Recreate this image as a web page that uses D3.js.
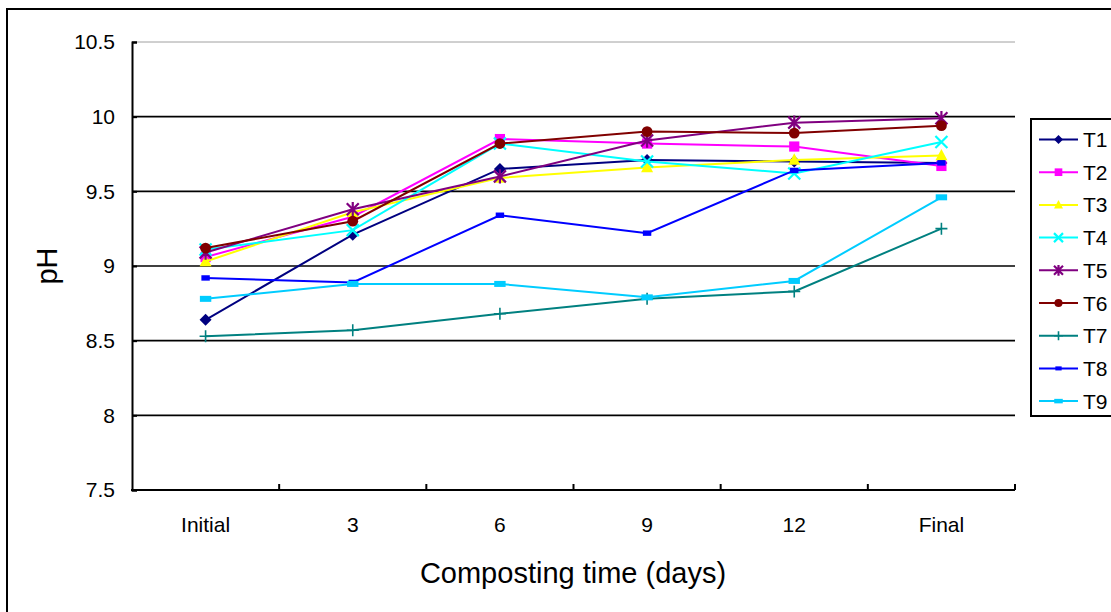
<!DOCTYPE html>
<html>
<head>
<meta charset="utf-8">
<script src="https://cdn.jsdelivr.net/npm/d3@7"></script>
<style>
  html, body { margin: 0; padding: 0; background: #fff; }
  svg { display: block; font-family: "Liberation Sans", Arial, sans-serif; }
</style>
</head>
<body>
<svg id="chart" width="1111" height="612"></svg>
<script>
// Composting time points
const categories = ["Initial", "3", "6", "9", "12", "Final"];

// pH for each treatment
const T1 = [8.64, 9.21, 9.65, 9.71, 9.70, 9.69];
const T2 = [9.06, 9.33, 9.85, 9.82, 9.80, 9.67];
const T3 = [9.03, 9.36, 9.59, 9.66, 9.71, 9.74];
const T4 = [9.11, 9.24, 9.82, 9.70, 9.62, 9.83];
const T5 = [9.09, 9.38, 9.60, 9.84, 9.96, 9.99];
const T6 = [9.12, 9.30, 9.82, 9.90, 9.89, 9.94];
const T7 = [8.53, 8.57, 8.68, 8.78, 8.83, 9.25];
const T8 = [8.92, 8.89, 9.34, 9.22, 9.64, 9.69];
const T9 = [8.78, 8.88, 8.88, 8.79, 8.90, 9.46];

const seriesNames = ["T1", "T2", "T3", "T4", "T5", "T6", "T7", "T8", "T9"];
const yTicks = [7.5, 8, 8.5, 9, 9.5, 10, 10.5];

const series = [
  { name: "T1", values: T1, color: "#000080", marker: "diamond" },
  { name: "T2", values: T2, color: "#FF00FF", marker: "square" },
  { name: "T3", values: T3, color: "#FFFF00", marker: "triangle" },
  { name: "T4", values: T4, color: "#00FFFF", marker: "x" },
  { name: "T5", values: T5, color: "#800080", marker: "star" },
  { name: "T6", values: T6, color: "#800000", marker: "circle" },
  { name: "T7", values: T7, color: "#008080", marker: "plus" },
  { name: "T8", values: T8, color: "#0000FF", marker: "dash" },
  { name: "T9", values: T9, color: "#00CCFF", marker: "bar" }
];

const svg = d3.select("#chart");

// Outer frame
svg.append("rect")
  .attr("x", 7).attr("y", 9)
  .attr("width", 1120).attr("height", 620)
  .attr("fill", "none").attr("stroke", "#000").attr("stroke-width", 2);

const plot = { left: 132, right: 1015, top: 42, bottom: 490 };

const x = d3.scaleBand().domain(categories).range([plot.left, plot.right]);
const y = d3.scaleLinear().domain([7.5, 10.5]).range([plot.bottom, plot.top]);

// Horizontal grid lines
svg.append("g")
  .selectAll("line")
  .data(yTicks.filter(t => t > 7.5))
  .join("line")
  .attr("x1", plot.left).attr("x2", plot.right)
  .attr("y1", d => y(d)).attr("y2", d => y(d))
  .attr("stroke", d => d === 10.5 ? "#a0a0a0" : "#000")
  .attr("stroke-width", d => d === 10.5 ? 1 : 1.6);

// Y axis
const yAxis = svg.append("g")
  .attr("transform", `translate(${plot.left},0)`)
  .call(d3.axisLeft(y).tickValues(yTicks).tickSize(-5).tickPadding(17)
    .tickFormat(d => String(d)));
yAxis.select(".domain").attr("stroke", "#000").attr("stroke-width", 2);
yAxis.selectAll(".tick line").attr("stroke", "#000").attr("stroke-width", 2);
yAxis.selectAll("text").attr("font-size", 21).attr("fill", "#000")
  .attr("font-family", "Liberation Sans, Arial, sans-serif");

// X axis with tick marks at category boundaries
const boundaries = categories.map(c => x(c)).concat([plot.right]);
svg.append("line")
  .attr("x1", plot.left - 1).attr("x2", plot.right)
  .attr("y1", plot.bottom).attr("y2", plot.bottom)
  .attr("stroke", "#000").attr("stroke-width", 2);
svg.append("g").selectAll("line")
  .data(boundaries.slice(1))
  .join("line")
  .attr("x1", d => d).attr("x2", d => d)
  .attr("y1", plot.bottom).attr("y2", plot.bottom - 6)
  .attr("stroke", "#000").attr("stroke-width", 2);
svg.append("g").selectAll("text")
  .data(categories)
  .join("text")
  .attr("x", d => x(d) + x.bandwidth() / 2)
  .attr("y", 532)
  .attr("text-anchor", "middle")
  .attr("font-size", 21)
  .text(d => d);

// Axis titles
svg.append("text")
  .attr("x", 573).attr("y", 583)
  .attr("text-anchor", "middle")
  .attr("font-size", 29)
  .text("Composting time (days)");
svg.append("text")
  .attr("transform", "translate(57,266) rotate(-90)")
  .attr("text-anchor", "middle")
  .attr("font-size", 29)
  .text("pH");

// Marker shapes
function drawMarker(g, type, color, s) {
  switch (type) {
    case "diamond":
      g.append("path").attr("d", `M0,${-s}L${s},0L0,${s}L${-s},0Z`).attr("fill", color);
      break;
    case "square":
      g.append("rect").attr("x", -s * 0.85).attr("y", -s * 0.85)
        .attr("width", s * 1.7).attr("height", s * 1.7).attr("fill", color);
      break;
    case "triangle":
      g.append("path").attr("d", `M0,${-s * 1.1}L${s},${s * 0.8}L${-s},${s * 0.8}Z`).attr("fill", color);
      break;
    case "x":
      g.append("path").attr("d", `M${-s},${-s}L${s},${s}M${-s},${s}L${s},${-s}`)
        .attr("stroke", color).attr("stroke-width", 2.2).attr("fill", "none");
      break;
    case "star":
      g.append("path").attr("d", `M${-s},${-s}L${s},${s}M${-s},${s}L${s},${-s}M0,${-s * 1.2}L0,${s * 1.2}`)
        .attr("stroke", color).attr("stroke-width", 2.2).attr("fill", "none");
      break;
    case "circle":
      g.append("circle").attr("r", s * 0.9).attr("fill", color);
      break;
    case "plus":
      g.append("path").attr("d", `M${-s},0L${s},0M0,${-s}L0,${s}`)
        .attr("stroke", color).attr("stroke-width", 1.6).attr("fill", "none");
      break;
    case "dash":
      g.append("rect").attr("x", -s * 0.7).attr("y", -s * 0.45)
        .attr("width", s * 1.4).attr("height", s * 0.9).attr("fill", color);
      break;
    case "bar":
      g.append("rect").attr("x", -s * 0.95).attr("y", -s * 0.5)
        .attr("width", s * 1.9).attr("height", s * 1.0).attr("fill", color);
      break;
  }
}

const line = d3.line()
  .x((d, i) => x(categories[i]) + x.bandwidth() / 2)
  .y(d => y(d));

// Series lines and markers
series.forEach(s => {
  const g = svg.append("g");
  g.append("path")
    .attr("d", line(s.values))
    .attr("fill", "none")
    .attr("stroke", s.color)
    .attr("stroke-width", 2);
  s.values.forEach((v, i) => {
    const m = g.append("g")
      .attr("transform", `translate(${x(categories[i]) + x.bandwidth() / 2},${y(v)})`);
    drawMarker(m, s.marker, s.color, 6);
  });
});

// Legend
const legend = svg.append("g");
legend.append("rect")
  .attr("x", 1031).attr("y", 119)
  .attr("width", 100).attr("height", 297)
  .attr("fill", "#fff").attr("stroke", "#000").attr("stroke-width", 2);
series.forEach((s, i) => {
  const ly = 139.5 + i * 32.7;
  const g = legend.append("g");
  g.append("line")
    .attr("x1", 1039).attr("x2", 1078)
    .attr("y1", ly).attr("y2", ly)
    .attr("stroke", s.color).attr("stroke-width", 2);
  const m = g.append("g").attr("transform", `translate(1058.5,${ly})`);
  drawMarker(m, s.marker, s.color, 4.5);
  g.append("text")
    .attr("x", 1083).attr("y", ly + 7.5)
    .attr("font-size", 21)
    .text(s.name);
});
</script>
</body>
</html>
